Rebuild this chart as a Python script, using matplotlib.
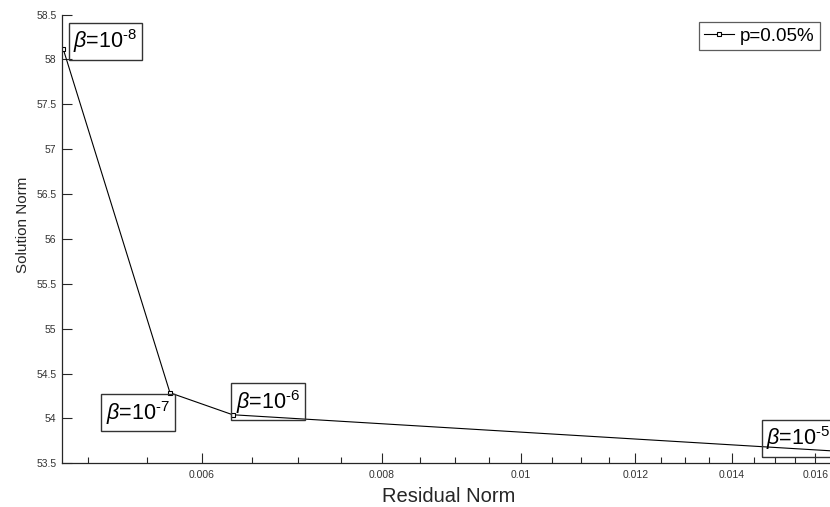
import matplotlib
matplotlib.use("Agg")
import matplotlib.pyplot as plt
from matplotlib.ticker import FixedLocator, NullFormatter

plt.rcParams['font.family'] = ['Liberation Sans', 'DejaVu Sans']
plt.rcParams['mathtext.fontset'] = 'custom'
plt.rcParams['mathtext.rm'] = 'Liberation Sans'
plt.rcParams['mathtext.it'] = 'Liberation Sans:italic'

# L-curve points, one per regularisation parameter
residual_norm = [0.00481, 0.005704, 0.006305, 0.0166]
solution_norm = [58.114, 54.286, 54.041, 53.634]
beta_exp = [-8, -7, -6, -5]
series_name = "p=0.05%"

x_major = [0.006, 0.008, 0.01, 0.012, 0.014, 0.016]
x_major_labels = ["0.006", "0.008", "0.01", "0.012", "0.014", "0.016"]
y_major = [53.5, 54, 54.5, 55, 55.5, 56, 56.5, 57, 57.5, 58, 58.5]

# label offsets (pixels) from each point to the left/centre of its text
label_offsets = [(10, 8), (-64, -20), (3, 13), (-72, 13)]

fig = plt.figure(figsize=(8.3, 5.07), dpi=100)
ax = fig.add_axes([0.0747, 0.0862, 0.9253, 0.885])

ax.plot(residual_norm, solution_norm, color='black', lw=0.8, marker='s',
        ms=3.5, mfc='white', mec='black', mew=0.8, label=series_name)

for x, y, e, off in zip(residual_norm, solution_norm, beta_exp, label_offsets):
    ax.annotate(r'$\it{\beta}$=10$^{\text{%d}}$' % e, xy=(x, y), xytext=off,
                textcoords='offset pixels', ha='left', va='center',
                fontsize=15.5, color='black', annotation_clip=False,
                bbox=dict(boxstyle='square,pad=0.22', fc='none', ec='#333333', lw=1))

ax.set_xscale('log')
ax.set_xlim(0.0048, 0.01638)
ax.set_ylim(53.5, 58.5)

ax.xaxis.set_major_locator(FixedLocator(x_major))
ax.set_xticklabels(x_major_labels)
minors = [0.0005 * k for k in range(10, 34)]
ax.xaxis.set_minor_locator(FixedLocator([m for m in minors if round(m / 0.002, 6) % 1 != 0]))
ax.xaxis.set_minor_formatter(NullFormatter())
ax.set_yticks(y_major)
ax.set_yticklabels(["%g" % v for v in y_major])

ax.tick_params(axis='both', which='major', direction='in', length=7, width=0.8,
               labelsize=7.5, labelcolor='#333333', color='#262626')
ax.tick_params(axis='x', which='minor', direction='in', length=4, width=0.8,
               color='#262626')
ax.tick_params(axis='x', pad=5)
ax.tick_params(axis='y', pad=4)

for s in ['top', 'right']:
    ax.spines[s].set_visible(False)
for s in ['left', 'bottom']:
    ax.spines[s].set_color('#262626')
    ax.spines[s].set_linewidth(0.9)

ax.set_xlabel("Residual Norm", fontsize=14.5, color='#262626')
ax.xaxis.set_label_coords(0.504, -0.053)
ax.set_ylabel("Solution Norm", fontsize=11, color='#262626')
ax.yaxis.set_label_coords(-0.042, 0.531)

leg = ax.legend(loc='upper right', bbox_to_anchor=(0.987, 0.984), fontsize=13.5,
                frameon=True, fancybox=False, handlelength=1.6, handletextpad=0.3,
                borderpad=0.3, borderaxespad=0)
leg.get_frame().set_edgecolor('#333333')
leg.get_frame().set_linewidth(0.9)

fig.savefig("out.png", dpi=100)
